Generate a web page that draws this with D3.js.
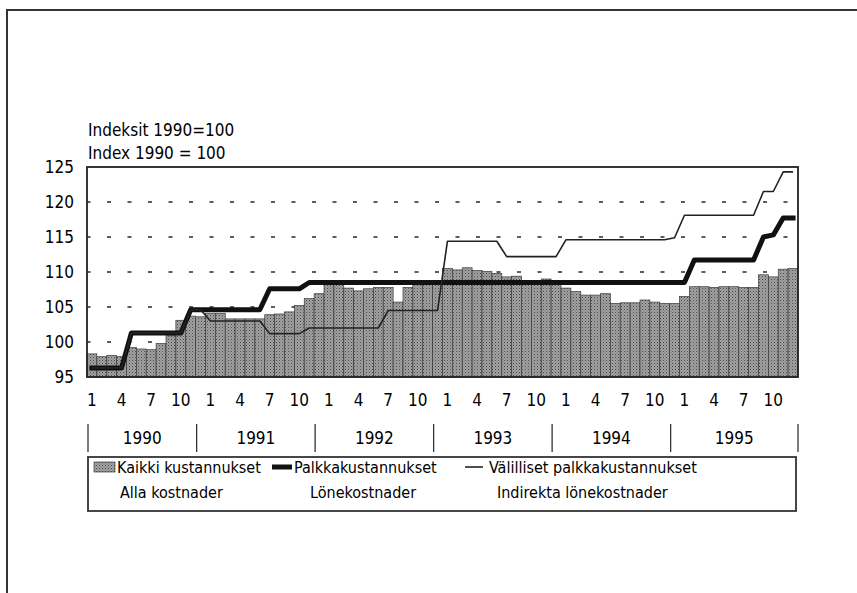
<!DOCTYPE html>
<html>
<head>
<meta charset="utf-8">
<script src="https://cdn.jsdelivr.net/npm/d3@7"></script>
<style>
  body { margin: 0; background: #fff; }
  svg text { font-family: "Liberation Sans Narrow", "DejaVu Sans Condensed", "Arial Narrow", sans-serif; fill: #000; }
</style>
</head>
<body>
<script>
// Chart values (monthly, 1990-1995)
const years = [1990, 1991, 1992, 1993, 1994, 1995];
const monthNums = [1, 2, 3, 4, 5, 6, 7, 8, 9, 10, 11, 12];
const monthTicks = [1, 4, 7, 10];
const yTicks = [95, 100, 105, 110, 115, 120, 125];

// Kaikki kustannukset / Alla kostnader (bars)
const kaikki = [
  98.3, 97.9, 98.1, 97.9, 99.2, 99.0, 98.9, 99.8, 100.9, 103.1, 103.7, 103.6,
  104.1, 104.1, 103.3, 103.3, 103.3, 103.3, 103.9, 104.0, 104.3, 105.2, 106.2, 106.9,
  108.4, 108.3, 107.7, 107.3, 107.6, 107.8, 107.8, 105.7, 107.8, 108.3, 108.3, 108.3,
  110.5, 110.3, 110.6, 110.2, 110.1, 109.8, 109.3, 109.4, 108.6, 108.8, 109.0, 108.7,
  107.7, 107.2, 106.7, 106.7, 106.9, 105.5, 105.6, 105.6, 106.0, 105.7, 105.5, 105.5,
  106.5, 107.9, 107.9, 107.8, 107.9, 107.9, 107.8, 107.8, 109.6, 109.3, 110.4, 110.5
];

// Palkkakustannukset / Lönekostnader (thick line)
const palkka = [
  96.3, 96.3, 96.3, 96.3, 101.3, 101.3, 101.3, 101.3, 101.3, 101.3, 104.6, 104.6,
  104.6, 104.6, 104.6, 104.6, 104.6, 104.6, 107.6, 107.6, 107.6, 107.6, 108.5, 108.5,
  108.5, 108.5, 108.5, 108.5, 108.5, 108.5, 108.5, 108.5, 108.5, 108.5, 108.5, 108.5,
  108.5, 108.5, 108.5, 108.5, 108.5, 108.5, 108.5, 108.5, 108.5, 108.5, 108.5, 108.5,
  108.5, 108.5, 108.5, 108.5, 108.5, 108.5, 108.5, 108.5, 108.5, 108.5, 108.5, 108.5,
  108.5, 111.7, 111.7, 111.7, 111.7, 111.7, 111.7, 111.7, 115.0, 115.3, 117.7, 117.7
];

// Välilliset palkkakustannukset / Indirekta lönekostnader (thin line)
const valilliset = [
  96.3, 96.3, 96.3, 96.3, 101.3, 101.3, 101.3, 101.3, 101.3, 101.3, 104.6, 104.6,
  103.0, 103.0, 103.0, 103.0, 103.0, 103.0, 101.2, 101.2, 101.2, 101.2, 102.0, 102.0,
  102.0, 102.0, 102.0, 102.0, 102.0, 102.0, 104.5, 104.5, 104.5, 104.5, 104.5, 104.5,
  114.4, 114.4, 114.4, 114.4, 114.4, 114.4, 112.2, 112.2, 112.2, 112.2, 112.2, 112.2,
  114.6, 114.6, 114.6, 114.6, 114.6, 114.6, 114.6, 114.6, 114.6, 114.6, 114.6, 114.9,
  118.1, 118.1, 118.1, 118.1, 118.1, 118.1, 118.1, 118.1, 121.5, 121.5, 124.3, 124.3
];

// one category per month
const periods = years.flatMap(y => monthNums.map(m => y + '-' + m));
const data = periods.map((p, i) => ({
  period: p,
  month: monthNums[i % 12],
  kaikki: kaikki[i],
  palkka: palkka[i],
  valilliset: valilliset[i]
}));

let width = 857, height = 593;
let margin = { top: 167, bottom: 216, left: 87, right: 59 };

let svg = d3.select('body')
  .append('svg')
  .attr('width', width)
  .attr('height', height);

// stipple pattern for the bars
let defs = svg.append('defs');
let pat = defs.append('pattern')
  .attr('id', 'stipple')
  .attr('width', 3)
  .attr('height', 3)
  .attr('patternUnits', 'userSpaceOnUse');
pat.append('rect').attr('width', 3).attr('height', 3).attr('fill', '#a2a2a2');
pat.append('rect').attr('x', 0).attr('y', 0).attr('width', 1).attr('height', 1).attr('fill', '#4a4a4a');
pat.append('rect').attr('x', 1.5).attr('y', 1.5).attr('width', 1).attr('height', 1).attr('fill', '#6a6a6a');

// outer frame (runs off the right and bottom of the picture)
svg.append('path')
  .attr('d', `M7,${height} L7,10 L${width},10`)
  .attr('fill', 'none')
  .attr('stroke', '#333')
  .attr('stroke-width', 2);

// scales
const xScale = d3.scaleBand()
  .domain(periods)
  .range([margin.left, width - margin.right])
  .padding(0);

const yScale = d3.scaleLinear()
  .domain([95, 125])
  .range([height - margin.bottom, margin.top]);

// dashed grid
svg.append('g')
  .selectAll('line')
  .data(yTicks.filter(t => t > 95 && t < 125))
  .enter()
  .append('line')
  .attr('x1', margin.left)
  .attr('x2', width - margin.right)
  .attr('y1', d => yScale(d))
  .attr('y2', d => yScale(d))
  .attr('stroke', '#2a2a2a')
  .attr('stroke-width', 1.6)
  .attr('stroke-dasharray', '4 16.5')
  .attr('stroke-dashoffset', 0.5);

// bars
svg.append('g')
  .selectAll('rect')
  .data(data)
  .enter()
  .append('rect')
  .attr('x', d => xScale(d.period))
  .attr('y', d => yScale(d.kaikki))
  .attr('width', xScale.bandwidth())
  .attr('height', d => yScale(95) - yScale(d.kaikki))
  .attr('fill', 'url(#stipple)')
  .attr('stroke', '#3a3a3a')
  .attr('stroke-width', 0.7);

// lines
const lineOf = key => d3.line()
  .x(d => xScale(d.period) + xScale.bandwidth() / 2)
  .y(d => yScale(d[key]));

svg.append('path')
  .datum(data)
  .attr('d', lineOf('palkka'))
  .attr('fill', 'none')
  .attr('stroke', '#111')
  .attr('stroke-width', 5)
  .attr('stroke-linejoin', 'round')
  .attr('stroke-linecap', 'square');

svg.append('path')
  .datum(data)
  .attr('d', lineOf('valilliset'))
  .attr('fill', 'none')
  .attr('stroke', '#222')
  .attr('stroke-width', 1.6)
  .attr('stroke-linejoin', 'round');

// plot frame
svg.append('rect')
  .attr('x', margin.left)
  .attr('y', margin.top)
  .attr('width', width - margin.left - margin.right)
  .attr('height', height - margin.top - margin.bottom)
  .attr('fill', 'none')
  .attr('stroke', '#222')
  .attr('stroke-width', 1.8);

// y axis labels
let yAxis = svg.append('g')
  .attr('transform', `translate(${margin.left},0)`)
  .call(d3.axisLeft(yScale).tickValues(yTicks).tickSize(0).tickPadding(13));
yAxis.select('.domain').remove();
yAxis.selectAll('text').style('font-size', '17px');

// month labels
let xAxis = svg.append('g')
  .attr('transform', `translate(0,${height - margin.bottom})`)
  .call(d3.axisBottom(xScale)
    .tickValues(data.filter(d => monthTicks.includes(d.month)).map(d => d.period))
    .tickFormat(p => p.split('-')[1])
    .tickSize(0)
    .tickPadding(17));
xAxis.select('.domain').remove();
xAxis.selectAll('text').style('font-size', '17px');

// year separators and labels
const sepX = years.map((y, i) => i === 0 ? margin.left + 1 : xScale(y - 1 + '-12') + 1)
  .concat([width - margin.right]);

svg.append('g')
  .selectAll('line')
  .data(sepX)
  .enter()
  .append('line')
  .attr('x1', d => d)
  .attr('x2', d => d)
  .attr('y1', 424)
  .attr('y2', 452)
  .attr('stroke', '#333')
  .attr('stroke-width', 1.3);

svg.append('g')
  .selectAll('text')
  .data(years)
  .enter()
  .append('text')
  .attr('x', (d, i) => (sepX[i] + sepX[i + 1]) / 2)
  .attr('y', 444)
  .attr('text-anchor', 'middle')
  .style('font-size', '17px')
  .text(d => d);

// titles
svg.append('text')
  .attr('x', 88)
  .attr('y', 136)
  .style('font-size', '17px')
  .text('Indeksit 1990=100');

svg.append('text')
  .attr('x', 88)
  .attr('y', 159)
  .style('font-size', '17px')
  .text('Index 1990 = 100');

// legend
let legend = svg.append('g');
legend.append('rect')
  .attr('x', 88)
  .attr('y', 457)
  .attr('width', 708)
  .attr('height', 54)
  .attr('fill', 'none')
  .attr('stroke', '#333')
  .attr('stroke-width', 1.8);

legend.append('rect')
  .attr('x', 94)
  .attr('y', 462)
  .attr('width', 21)
  .attr('height', 10)
  .attr('fill', 'url(#stipple)')
  .attr('stroke', '#3a3a3a')
  .attr('stroke-width', 0.7);

legend.append('line')
  .attr('x1', 272).attr('x2', 292)
  .attr('y1', 467).attr('y2', 467)
  .attr('stroke', '#111')
  .attr('stroke-width', 5);

legend.append('line')
  .attr('x1', 465).attr('x2', 483)
  .attr('y1', 467).attr('y2', 467)
  .attr('stroke', '#222')
  .attr('stroke-width', 1.6);

const legendRow1 = [
  { x: 117, text: 'Kaikki kustannukset' },
  { x: 294, text: 'Palkkakustannukset' },
  { x: 489, text: 'Välilliset palkkakustannukset' }
];
const legendRow2 = [
  { x: 120, text: 'Alla kostnader' },
  { x: 310, text: 'Lönekostnader' },
  { x: 497, text: 'Indirekta lönekostnader' }
];

legend.selectAll('.row1')
  .data(legendRow1)
  .enter()
  .append('text')
  .attr('class', 'row1')
  .attr('x', d => d.x)
  .attr('y', 473)
  .style('font-size', '16px')
  .text(d => d.text);

legend.selectAll('.row2')
  .data(legendRow2)
  .enter()
  .append('text')
  .attr('class', 'row2')
  .attr('x', d => d.x)
  .attr('y', 498)
  .style('font-size', '16px')
  .text(d => d.text);
</script>
</body>
</html>
